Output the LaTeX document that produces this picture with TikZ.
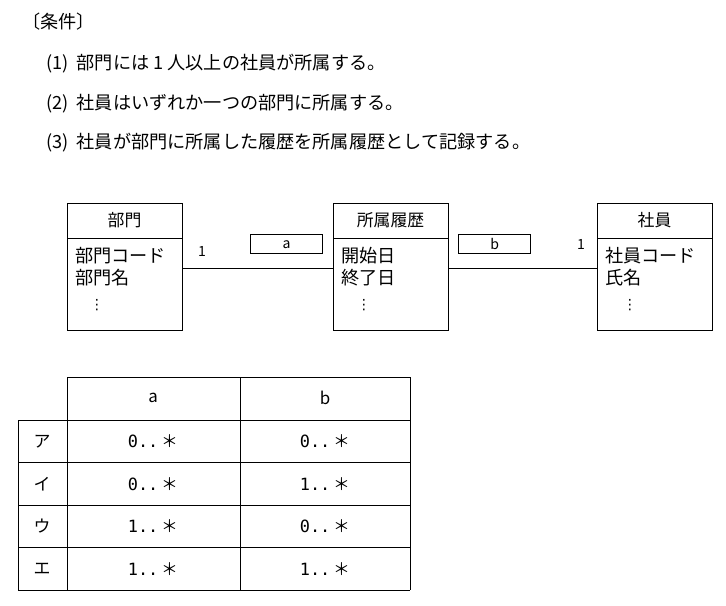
\documentclass[tikz,border=0pt]{standalone}
\usepackage{fontspec}
\setmainfont{Noto Sans CJK JP}
\newfontfamily\dvmono{DejaVu Sans Mono}
\newfontfamily\dvsans{DejaVu Sans}
\usetikzlibrary{positioning}
\tikzset{
  cls/.style={draw, thick, minimum width=115*0.03cm, minimum height=127*0.03cm, inner sep=0pt},
  role/.style={draw, very thick, minimum width=72*0.03cm, minimum height=19*0.03cm, inner sep=0pt, font=\large},
  txt/.style={anchor=west, inner sep=0pt, font=\fontsize{15.5}{18}\selectfont},
  cell/.style={inner sep=0pt, font=\Large}
}
\begin{document}
\begin{tikzpicture}[x=0.03cm, y=-0.03cm]
    \useasboundingbox (0,0) rectangle (726,605);

    \node(cond) [txt] at (22, 22) {〔条件〕};
    \node(c1) [txt] at (46, 64) {(1)\ \ 部門には 1 人以上の社員が所属する。};
    \node(c2) [txt] at (46, 104) {(2)\ \ 社員はいずれか一つの部門に所属する。};
    \node(c3) [txt] at (46, 143) {(3)\ \ 社員が部門に所属した履歴を所属履歴として記録する。};

    % classes
    \node(dept) [cls, anchor=north west] at (67, 203) {};
    \node(hist) [cls, anchor=north west] at (333, 203) {};
    \node(emp) [cls, anchor=north west] at (597, 203) {};
    \foreach \c in {dept, hist, emp} {
      \draw[thick] (\c.north west) ++(0, 35) -- ++(115, 0);
    }
    \node(deptn) [cell] at (124.5, 220) {部門};
    \node(histn) [cell] at (390.5, 220) {所属履歴};
    \node(empn) [cell] at (654.5, 220) {社員};
    \node [txt] at (75, 256) {部門コード};
    \node [txt] at (75, 278) {部門名};
    \node [cell, font=\large\dvsans] at (97, 305) {⋮};
    \node [txt] at (341, 256) {開始日};
    \node [txt] at (341, 278) {終了日};
    \node [cell, font=\large\dvsans] at (364, 305) {⋮};
    \node [txt] at (605, 256) {社員コード};
    \node [txt] at (605, 278) {氏名};
    \node [cell, font=\large\dvsans] at (630, 305) {⋮};

    % associations
    \coordinate (dr) at (182, 268);
    \coordinate (hl) at (333, 268);
    \coordinate (hr) at (448, 268);
    \coordinate (el) at (597, 268);
    \draw[thick] (dr) -- (hl);
    \draw[thick] (hr) -- (el);
    \node(m1) [cell, font=\large] at (202, 251) {1};
    \node(m2) [cell, font=\large] at (581, 244) {1};
    \node(a) [role, anchor=north west] at (250, 234) {a};
    \node(b) [role, anchor=north west] at (458, 234) {b};

    % table
    \draw[thick] (67, 377) -- (410, 377);
    \draw[thick] (18, 420) -- (410, 420);
    \foreach \y in {462, 505, 547, 590} {
      \draw[thick] (18, \y) -- (410, \y);
    }
    \draw[thick] (18, 420) -- (18, 590);
    \foreach \x in {67, 240, 410} {
      \draw[thick] (\x, 377) -- (\x, 590);
    }
    \node(ha) [cell] at (153, 398) {a};
    \node(hb) [cell] at (325, 398) {b};
    \foreach \k/\l/\va/\vb [count=\i] in {1/ア/0/0, 2/イ/0/1, 3/ウ/1/0, 4/エ/1/1} {
      \pgfmathsetmacro{\yy}{420 + 42.5*\i - 21}
      \node [cell] at (42, \yy) {\l};
      \node [cell] at (153, \yy) {{\dvmono\va..}\,＊};
      \node [cell] at (325, \yy) {{\dvmono\vb..}\,＊};
    }
\end{tikzpicture}
\end{document}
